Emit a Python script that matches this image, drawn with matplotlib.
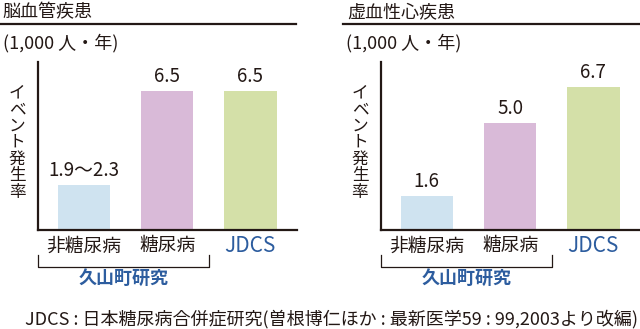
import matplotlib
matplotlib.use("Agg")
import matplotlib.pyplot as plt
from matplotlib.lines import Line2D

plt.rcParams["font.family"] = ["Noto Sans CJK JP", "DejaVu Sans"]

W, H = 640, 329
INK = "#231815"
BLUE = "#2d5d9f"

categories = ["非糖尿病", "糖尿病", "JDCS"]
bar_colors = ["#cfe3f0", "#d9bad8", "#d4e0a8"]
study_label = "久山町研究"
ylabel = "イベント発生率"
unit_label = "(1,000 人・年)"

stroke_title = "脳血管疾患"
stroke_low = [1.9, 6.5, 6.5]
stroke_high = [2.3, 6.5, 6.5]

chd_title = "虚血性心疾患"
chd_low = [1.6, 5.0, 6.7]
chd_high = [1.6, 5.0, 6.7]

footnote = "JDCS : 日本糖尿病合併症研究(曽根博仁ほか : 最新医学59 : 99,2003より改編)"


def fx(px):
    return px / W


def fy(py):
    return 1 - py / H


def panel(fig, x0, title, lows, highs):
    # x0 is the pixel column of the y axis spine
    ax = fig.add_axes([fx(x0), fy(230), fx(259), 168 / H])
    heights = [(lo + hi) / 2 for lo, hi in zip(lows, highs)]
    xs = range(len(categories))
    ax.bar(xs, heights, width=0.63, color=bar_colors, zorder=2)
    ax.set_xlim(-0.55, 2.56)
    ax.set_ylim(0, 7.85)
    for s in ("top", "right"):
        ax.spines[s].set_visible(False)
    for s in ("left", "bottom"):
        ax.spines[s].set_linewidth(1.6)
        ax.spines[s].set_color(INK)
    ax.set_xticks([])
    ax.set_yticks([])

    for x, h, lo, hi in zip(xs, heights, lows, highs):
        label = f"{lo:.1f}" if lo == hi else f"{lo:.1f}〜{hi:.1f}"
        ax.annotate(label, (x, h), xytext=(0, 10.5), textcoords="offset points",
                    ha="center", va="center", fontsize=13.5, color=INK)

    xt = ax.get_xaxis_transform()
    for x, name in zip(xs, categories):
        color = BLUE if name == "JDCS" else INK
        ax.text(x, -0.095, name, transform=xt, ha="center", va="center",
                fontsize=13.5 if name != "JDCS" else 15, color=color)

    # bracket grouping the first two categories
    ax.plot([-0.55, -0.55, 1.5, 1.5], [-0.15, -0.22, -0.22, -0.15], transform=xt,
            color=INK, lw=0.9, clip_on=False)
    ax.text(0.475, -0.285, study_label, transform=xt, ha="center", va="center",
            fontsize=13, color=BLUE, fontweight="bold")

    # vertical axis caption, one character per line
    for i, ch in enumerate(ylabel):
        fig.text(fx(x0 - 21), fy(93 + i * 16.5), ch, ha="center", va="center",
                 fontsize=12, color=INK)
    return ax


fig = plt.figure(figsize=(W / 100, H / 100), dpi=100)

panel(fig, 38, stroke_title, stroke_low, stroke_high)
panel(fig, 381, chd_title, chd_low, chd_high)

fig.text(fx(2), fy(12), stroke_title, ha="left", va="center", fontsize=13, color=INK)
fig.text(fx(347), fy(12), chd_title, ha="left", va="center", fontsize=13, color=INK)
fig.add_artist(Line2D([fx(0), fx(296)], [fy(24), fy(24)], color=INK, lw=1.6))
fig.add_artist(Line2D([fx(343), fx(640)], [fy(24), fy(24)], color=INK, lw=1.6))
fig.text(fx(3), fy(43), unit_label, ha="left", va="center", fontsize=13, color=INK)
fig.text(fx(346), fy(43), unit_label, ha="left", va="center", fontsize=13, color=INK)

fig.text(fx(638), fy(319), footnote, ha="right", va="center", fontsize=13, color=INK)

fig.savefig("out.png", dpi=100)
